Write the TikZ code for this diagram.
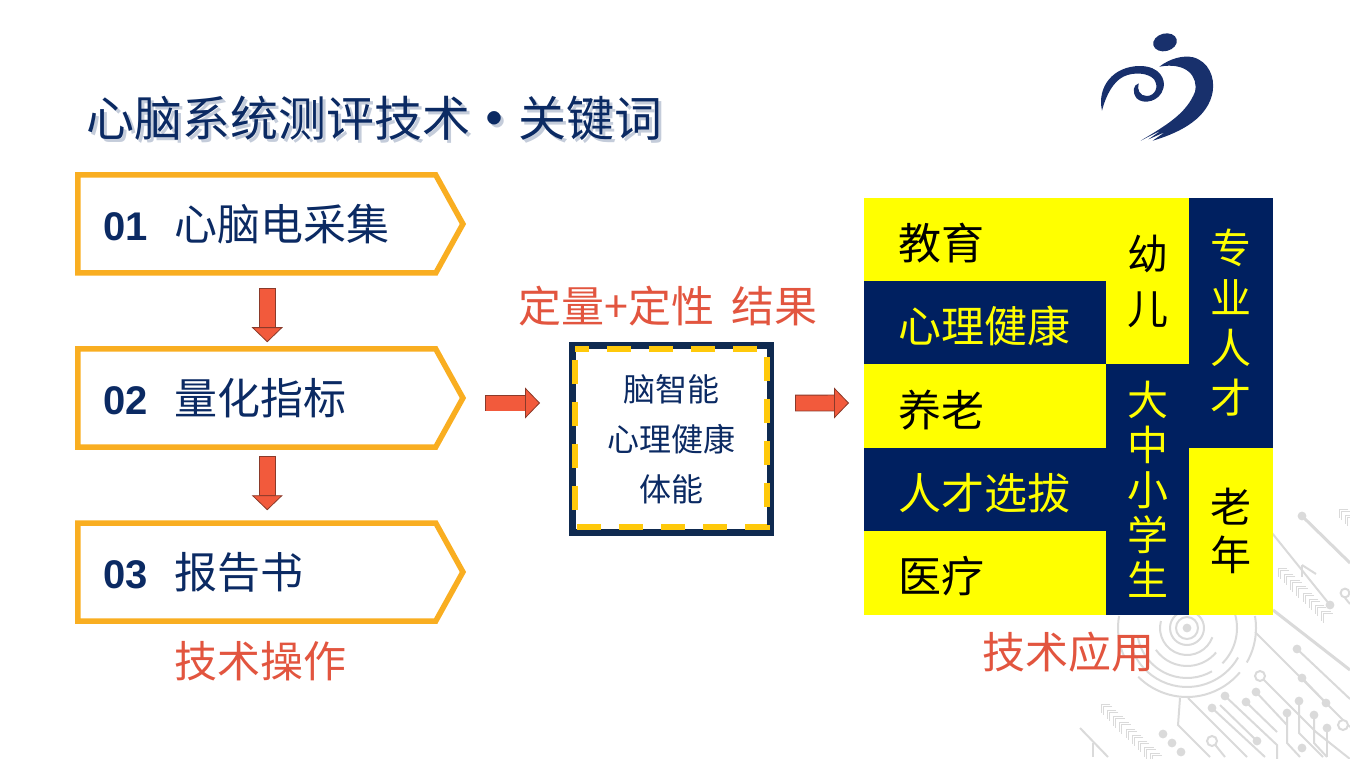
\documentclass[tikz,border=0pt]{standalone}
\usepackage{fontspec}
\setmainfont{Noto Sans CJK SC}
\newfontfamily\numfont{Liberation Sans}
\usetikzlibrary{shapes.symbols,arrows.meta}
\definecolor{navyblue}{HTML}{002060}
\definecolor{cellyellow}{HTML}{FFFF00}
\definecolor{textnavy}{HTML}{0B2A63}
\definecolor{boxorange}{HTML}{F9AE21}
\definecolor{dashgold}{HTML}{FFC90A}
\definecolor{framenavy}{HTML}{0F2A50}
\definecolor{labelred}{HTML}{E2553F}
\definecolor{arrowred}{HTML}{F25A3C}
\definecolor{arrowdark}{HTML}{8A3A2A}
\definecolor{circuitgrey}{HTML}{DADADA}
\definecolor{logoblue}{HTML}{18306C}
\tikzset{
    stepbox/.style={signal,signal to=east,signal pointer angle=122,draw=boxorange,line width=2.75pt,
        minimum height=49pt,text width=153pt,align=left,inner xsep=13pt,anchor=west,text=textnavy,
        font=\fontsize{21.5}{24}\selectfont},
    blockarrow/.style={draw=arrowred,line width=7.5pt,
        -{Triangle[length=7.5pt,width=15.5pt,fill=arrowred,color=arrowdark,line width=.4pt]},
        preaction={draw=arrowdark,line width=8.3pt,-,shorten >=7pt,shorten <=-.4pt}},
    yellowcell/.style={rectangle,fill=cellyellow,draw=cellyellow,line width=.2pt,inner sep=0pt,anchor=north west,text=black},
    navycell/.style={rectangle,fill=navyblue,draw=navyblue,line width=.2pt,inner sep=0pt,anchor=north west,text=cellyellow},
    rowcell/.style={minimum height=41.4pt,text width=87pt,inner xsep=17pt,align=left,text height=22pt,text depth=2pt,
        font=\fontsize{21.5}{24}\selectfont},
    colcell/.style={minimum width=41.3pt,align=center},
    redlabel/.style={text=labelred,font=\fontsize{21.5}{24}\selectfont},
    titletext/.style={anchor=west,inner sep=0pt,font=\fontsize{24}{28}\selectfont},
    circuit/.style={draw=circuitgrey,line width=1pt},
    chevron/.style={draw=circuitgrey,line width=.45pt},
}
\begin{document}
\begin{tikzpicture}[x=.5pt,y=-.5pt]
    \useasboundingbox (0,0) rectangle (1350,759);
    % circuit pattern behind the right block
    \coordinate (rings) at (1187,628);
    \fill[circuitgrey] (rings) circle (2.2pt);
    \foreach \r/\a/\b in {11/0/360,17/0/360,27/165/340,38/215/320,50/190/300,50/315/375,59/200/330,69/170/205,69/225/320,69/330/370}
        \draw[circuit] ([shift={(\a:{\r*.5pt})}]rings) arc[start angle=\a,end angle=\b,radius=\r*.5pt];
    \draw[circuit,line width=1.5pt] (1302,516) -- (1350,563);
    \draw[circuit,line width=1.5pt] (1273,610) -- (1350,670);
    \draw[circuit] (1272,533) -- (1330,605);
    \draw[circuit] (1302,565) -- (1302,577);
    \draw[circuit] (1302,565) -- (1316,574);
    \draw[circuit] (1345,598) -- (1350,604);
    \draw[circuit] (1255,632) -- (1350,727);
    \draw[circuit] (1297,649) -- (1350,699);
    \draw[circuit] (1302,678) -- (1326,703);
    \draw[circuit] (1260,676) -- (1316,732) -- (1350,759);
    \draw[circuit] (1225,696) -- (1277,745) -- (1277,759);
    \draw[circuit] (1220,705) -- (1257,741);
    \draw[circuit] (1212,708) -- (1265,757);
    \draw[circuit] (1256,692) -- (1287,725);
    \draw[circuit] (1246,702) -- (1277,732);
    \draw[circuit] (1287,713) -- (1287,743) -- (1300,757);
    \draw[circuit] (1299,701) -- (1299,733) -- (1323,757);
    \draw[circuit] (1314,715) -- (1314,743) -- (1327,757);
    \draw[circuit] (1327,728) -- (1327,757);
    \draw[circuit] (1188,698) -- (1247,757);
    \draw[circuit] (1180,698) -- (1178,725) -- (1210,757);
    \draw[circuit] (1212,741) -- (1225,757);
    \draw[circuit] (1080,728) -- (1108,757);
    \draw[circuit] (1093,743) -- (1093,757);
    \foreach \x/\y in {1302/516,1330/605,1297/649,1302/678,1326/703,1225/696,1212/708,1246/702,1256/692,1287/713,1299/701,1314/715,1327/728,1257/741,1302/748,1163/734,1172/743,1181/752}
        \fill[circuitgrey] (\x,\y) circle (2.2pt);
    \foreach \x/\y/\s in {1260/676/2.5pt,1343/725/2.5pt,1212/741/2.5pt,1345/593/2.2pt}
        \draw[circuit,fill=white] (\x,\y) circle (\s);
    \foreach \x/\y/\n in {1095/698/10,1272/562/8,1333/503/3}
        \foreach \i in {1,...,\n}
            \draw[chevron,shift={({\x+\i*6.2},{\y+\i*6.2})}] (9,0) -- (0,0) -- (0,9) (11,2) -- (2,2) -- (2,11);
    % logo
    \begin{scope}[shift={(1080,20)},x=.1667pt,y=-.1667pt]
        \fill[logoblue,rotate around={14:(255,67)}] (255,67) ellipse [x radius=6pt,y radius=4.4pt];
        \fill[logoblue] (66,272) .. controls (50,200) and (100,138) .. (180,138)
            .. controls (240,138) and (258,180) .. (250,205)
            .. controls (240,245) and (190,255) .. (170,235)
            .. controls (155,215) and (160,195) .. (176,190)
            .. controls (170,210) and (180,228) .. (200,228)
            .. controls (225,228) and (238,200) .. (222,178)
            .. controls (205,158) and (160,155) .. (130,170)
            .. controls (100,185) and (78,225) .. (66,272) -- cycle;
        \fill[logoblue] (238,140) .. controls (270,115) and (310,105) .. (340,112)
            .. controls (385,125) and (405,170) .. (398,215)
            .. controls (385,290) and (310,335) .. (218,362)
            -- (255,336) -- (205,358) -- (245,330) -- (182,362)
            .. controls (260,315) and (320,280) .. (345,215)
            .. controls (355,170) and (320,125) .. (238,140) -- cycle;
    \end{scope}
    % title
    \node[titletext,text=textnavy!40!white,opacity=.6] (titleshade) at (89,121) {心脑系统测评技术\makebox[24pt]{\textbf{·}}关键词};
    \node[titletext,text=textnavy] (title) at (86,118) {心脑系统测评技术\makebox[24pt]{\textbf{·}}关键词};
    % left column
    \node[stepbox] (box1) at (75,224) {{\numfont\bfseries\fontsize{20}{24}\selectfont 01}\hspace{13pt}心脑电采集};
    \node[stepbox] (box2) at (75,398) {{\numfont\bfseries\fontsize{20}{24}\selectfont 02}\hspace{13pt}量化指标};
    \node[stepbox] (box3) at (75,572) {{\numfont\bfseries\fontsize{20}{24}\selectfont 03}\hspace{13pt}报告书};
    \node[redlabel] (oplabel) at (260,661) {技术操作};
    % middle frame
    \node[rectangle,fill=white,draw=framenavy,line width=3.5pt,minimum width=99pt,minimum height=93.5pt,
        align=center,text=textnavy,font=\fontsize{16}{25}\selectfont] (frame) at (671.5,439) {脑智能\\心理健康\\体能};
    \draw[draw=dashgold,line width=3pt,dash pattern=on 12pt off 9pt,dash phase=5pt]
        ([shift={(3.2pt,-3.5pt)}]frame.north west) -- ([shift={(-3.5pt,-3.5pt)}]frame.north east)
        -- ([shift={(-3.5pt,4.5pt)}]frame.south east) -- ([shift={(3.2pt,4.5pt)}]frame.south west) -- cycle;
    \node[redlabel] (midlabel) at (668,306) {定量+定性\hspace{4pt} 结果};
    % right block
    \node[yellowcell,rowcell] (edu) at (864,198) {教育};
    \node[navycell,rowcell] (psy) at (864,281.2) {心理健康};
    \node[yellowcell,rowcell] (age) at (864,364.4) {养老};
    \node[navycell,rowcell] (sel) at (864,447.6) {人才选拔};
    \node[yellowcell,rowcell] (med) at (864,530.8) {医疗};
    \node[yellowcell,colcell,minimum height=83pt,font=\fontsize{20.5}{27.5}\selectfont] (kid) at (1106,198) {幼\\儿};
    \node[navycell,colcell,minimum height=124.6pt,font=\fontsize{20.5}{22.5}\selectfont] (stu) at (1106,364.4) {大\\中\\小\\学\\生};
    \node[navycell,colcell,minimum height=124.6pt,font=\fontsize{20.5}{25}\selectfont] (pro) at (1189,198) {专\\业\\人\\才};
    \node[yellowcell,colcell,minimum height=83pt,font=\fontsize{20.5}{24}\selectfont] (old) at (1189,447.6) {老\\年};
    \node[redlabel] (applabel) at (1068,652) {技术应用};
    % arrows
    \draw[blockarrow] ([shift={(5.25pt,-6.5pt)}]box1.south) -- ([shift={(5.25pt,2pt)}]box2.north);
    \draw[blockarrow] ([shift={(5.25pt,-3.5pt)}]box2.south) -- ([shift={(5.25pt,5pt)}]box3.north);
    \draw[blockarrow] ([shift={(10pt,-2.5pt)}]box2.east) -- ([shift={(-14.5pt,18pt)}]frame.west);
    \draw[blockarrow] ([shift={(11pt,18pt)}]frame.east) -- ([shift={(-7.5pt,1.5pt)}]age.west);
\end{tikzpicture}
\end{document}
